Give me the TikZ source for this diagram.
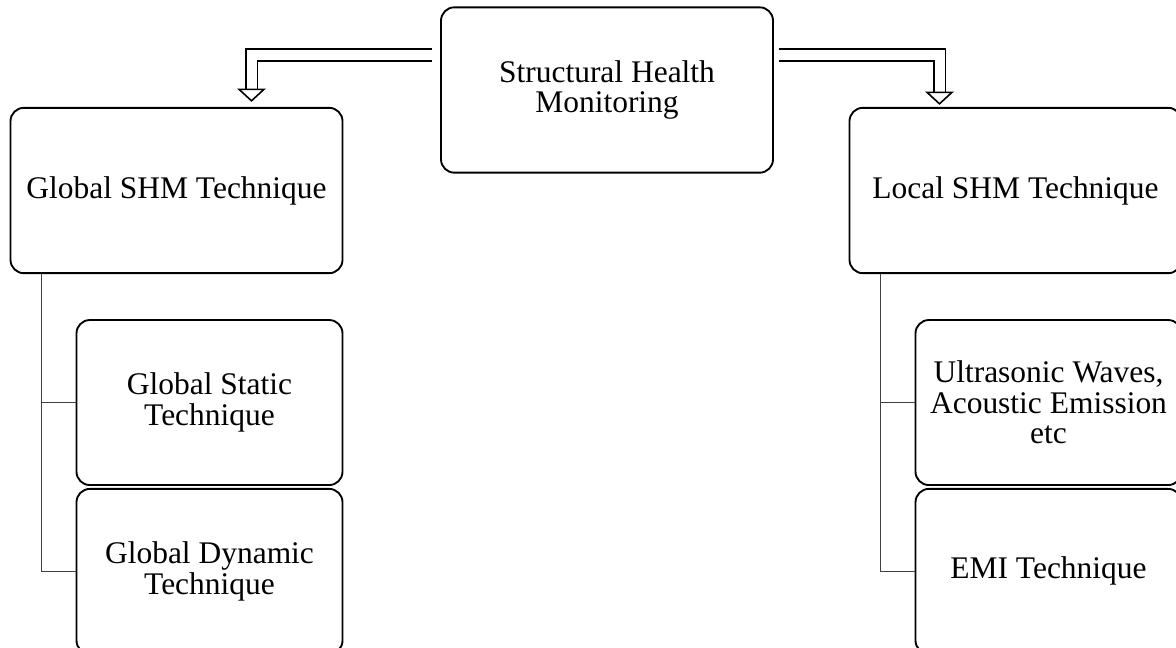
\documentclass[tikz,border=0pt]{standalone}
\usepackage{fontspec}
\setmainfont{Liberation Serif}
\usetikzlibrary{positioning, arrows.meta, calc}
\tikzset{
  topbox/.style={rectangle, rounded corners=10pt, draw=black, line width=1.4pt, minimum width=249pt, minimum height=124pt, align=center, inner sep=2pt},
  subbox/.style={rectangle, rounded corners=10pt, draw=black, line width=1.4pt, minimum width=199.5pt, minimum height=123.75pt, align=center, inner sep=2pt},
  dblarrow/.style={draw=black, line width=1.2pt, double=white, double distance=7.5pt, -{Triangle[open, width=21.5pt, length=10pt, line width=1.2pt, fill=white]}},
  branch/.style={draw=black!75, line width=0.8pt}
}

\begin{document}
\begin{tikzpicture}[x=0.75pt, y=-0.75pt, every node/.style={font=\fontsize{23.6pt}{23pt}\selectfont}]
        \useasboundingbox (0,0) rectangle (1176,647);
        \node (shm) [topbox] at (607,90) {Structural Health\\Monitoring};
        \node (global) [topbox] at (176.5,190.5) {Global SHM Technique};
        \node (local) [topbox] at (1015.5,190.5) {Local SHM Technique};
        \node (gstatic) [subbox, below=33.75pt of global.south east, anchor=north east] {Global Static\\Technique};
        \node (gdynamic) [subbox, below=1.5pt of gstatic] {Global Dynamic\\Technique};
        \node (ultra) [subbox, below=33.75pt of local.south east, anchor=north east] {Ultrasonic Waves,\\Acoustic Emission\\etc};
        \node (emi) [subbox, below=1.5pt of ultra] {EMI Technique};

        \coordinate (gtrunk) at ($(global.south west)+(32,0)$);
        \coordinate (ltrunk) at ($(local.south west)+(32,0)$);

        \draw [dblarrow] ($(shm.west)+(-8,-35)$) -| ($(global.north)+(75,-5)$);
        \draw [dblarrow] ($(shm.east)+(5,-35)$) -| ($(local.north)+(-76,-2)$);

        \draw [branch] (gtrunk) |- (gdynamic.west);
        \draw [branch] (gtrunk |- gstatic.west) -- (gstatic.west);
        \draw [branch] (ltrunk) |- (emi.west);
        \draw [branch] (ltrunk |- ultra.west) -- (ultra.west);
    \end{tikzpicture}
\end{document}
